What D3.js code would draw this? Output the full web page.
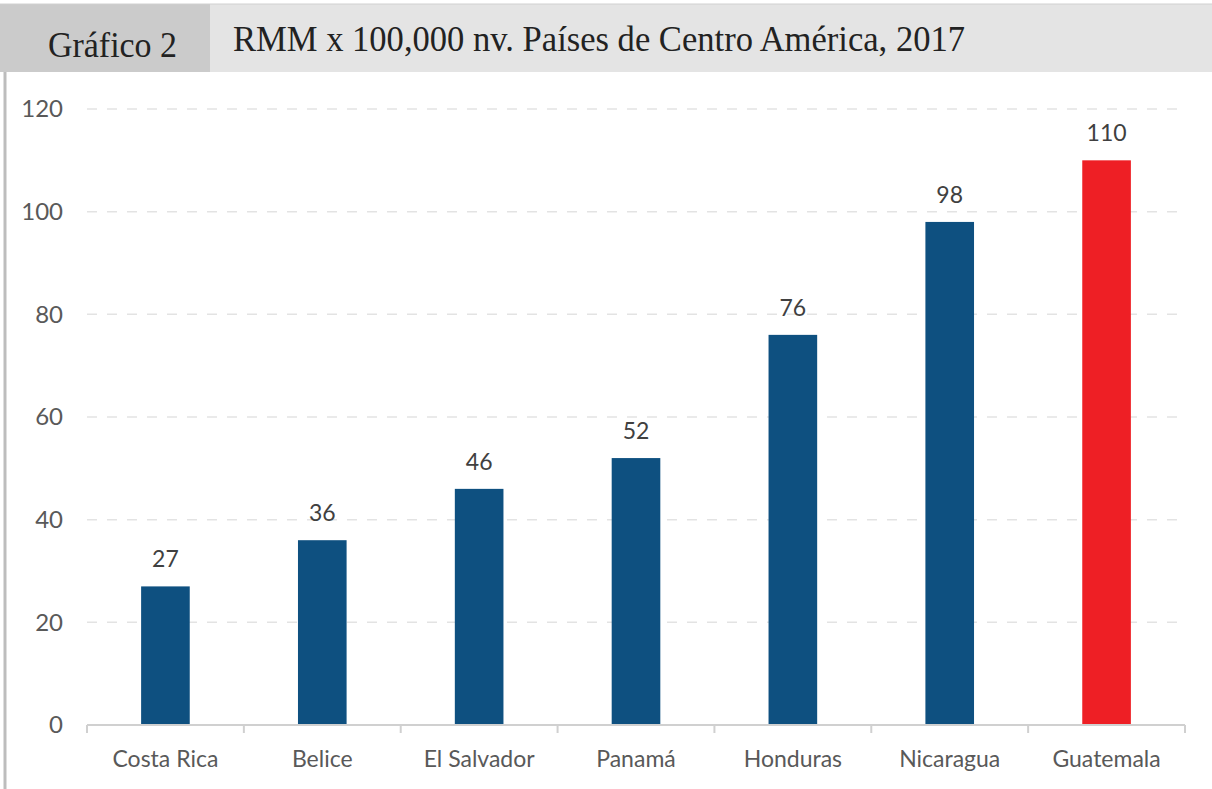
<!DOCTYPE html>
<html><head><meta charset="utf-8">
<script src="https://cdn.jsdelivr.net/npm/d3@7"></script>
<style>body{margin:0;background:#fff;} svg{display:block;}</style>
</head><body>
<svg id="c" width="1212" height="789"></svg>
<script>
const categories = ["Costa Rica","Belice","El Salvador","Panamá","Honduras","Nicaragua","Guatemala"];
const values = [27,36,46,52,76,98,110];
const barColors = ["#0e5080","#0e5080","#0e5080","#0e5080","#0e5080","#0e5080","#ee1f25"];
const yTicks = [0,20,40,60,80,100,120];
const headerLabel = "Gráfico 2";
const titleText = "RMM x 100,000 nv. Países de Centro América, 2017";

(function(){
const svg = d3.select("#c");
const lab = "Lato, 'Open Sans', sans-serif";
// header
svg.append("rect").attr("x",0).attr("y",4).attr("width",1212).attr("height",68).attr("fill","#e4e4e4");
svg.append("rect").attr("x",0).attr("y",4).attr("width",210).attr("height",68).attr("fill","#cbcbcb");
svg.append("line").attr("x1",0).attr("x2",1212).attr("y1",4).attr("y2",4).attr("stroke","#d0d0d0");
svg.append("text").attr("x",48).attr("y",57).attr("font-family","Liberation Serif").attr("font-size",36).attr("fill","#222")
  .attr("textLength",129).attr("lengthAdjust","spacingAndGlyphs").text(headerLabel);
svg.append("text").attr("x",233).attr("y",51).attr("font-family","Liberation Serif").attr("font-size",36).attr("fill","#222")
  .attr("textLength",732).attr("lengthAdjust","spacingAndGlyphs").text(titleText);
// left border
svg.append("line").attr("x1",5).attr("x2",5).attr("y1",72).attr("y2",789).attr("stroke","#bdbdbd").attr("stroke-width",3);

const pl=87, pr=1185, pt=109, pb=725;
const x = d3.scaleBand().domain(categories).range([pl,pr]).paddingInner(0.69).paddingOuter(0.345);
const y = d3.scaleLinear().domain([0,120]).range([pb,pt]);

const grid = svg.append("g");
grid.selectAll("line").data(yTicks.filter(d=>d>0)).join("line")
  .attr("x1",pl).attr("x2",pr).attr("y1",d=>y(d)).attr("y2",d=>y(d))
  .attr("stroke","#e3e3e3").attr("stroke-width",1.5).attr("stroke-dasharray","10,10");

const yAxis = svg.append("g").attr("transform",`translate(${pl},0)`)
  .call(d3.axisLeft(y).tickValues(yTicks).tickSize(0).tickPadding(24));
yAxis.select(".domain").remove();
yAxis.selectAll("text").attr("font-family",lab).attr("font-size",24).attr("fill","#595959");

svg.append("g").selectAll("rect").data(values).join("rect")
  .attr("x",(d,i)=>x(categories[i])).attr("width",x.bandwidth())
  .attr("y",d=>y(d)).attr("height",d=>pb-y(d)).attr("fill",(d,i)=>barColors[i]);

svg.append("g").selectAll("text").data(values).join("text")
  .attr("x",(d,i)=>x(categories[i])+x.bandwidth()/2).attr("y",d=>y(d)-19)
  .attr("text-anchor","middle").attr("font-family",lab).attr("font-size",23).attr("fill","#404040")
  .text(d=>d);

// x axis with boundary ticks
const xa = svg.append("g");
xa.append("line").attr("x1",pl).attr("x2",pr).attr("y1",pb).attr("y2",pb).attr("stroke","#d0d0d0").attr("stroke-width",2);
xa.selectAll("line.t").data(d3.range(categories.length+1)).join("line").attr("class","t")
  .attr("x1",i=>pl+i*(pr-pl)/categories.length).attr("x2",i=>pl+i*(pr-pl)/categories.length)
  .attr("y1",pb).attr("y2",pb+8).attr("stroke","#d0d0d0").attr("stroke-width",2);
const xAxis = svg.append("g").attr("transform",`translate(0,${pb})`)
  .call(d3.axisBottom(x).tickSize(0).tickPadding(26));
xAxis.select(".domain").remove();
xAxis.selectAll("text").attr("font-family",lab).attr("font-size",23).attr("fill","#595959");
})();
</script>
</body></html>
